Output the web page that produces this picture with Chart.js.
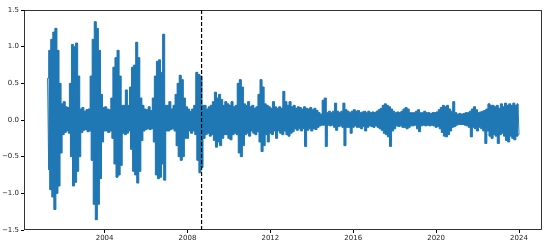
<!DOCTYPE html>
<html>
<head>
<meta charset="utf-8">
<script src="https://cdn.jsdelivr.net/npm/chart.js@4/dist/chart.umd.min.js"></script>
<style>
html,body{margin:0;padding:0;background:#fff;}
#wrap{width:550px;height:245px;position:relative;}
</style>
</head>
<body>
<div id="wrap"><canvas id="c" width="550" height="245"></canvas></div>
<script>
// Sampling of the envelope (decimal years)
const startYear = 2001.25;
const stepYears = 0.1;
// Upper envelope of the series, one value per 0.1 year
const upper = [
0.57,0.95,1.10,1.20,1.25,0.95,0.50,0.22,0.25,0.18,
0.17,0.50,1.03,1.00,1.05,0.60,0.15,0.17,0.12,0.14,
0.15,0.60,1.10,1.34,1.25,0.95,0.35,0.17,0.18,0.15,
0.14,0.30,0.72,0.85,0.95,0.60,0.20,0.20,0.41,0.20,
0.45,0.72,0.75,1.06,0.85,0.30,0.20,0.15,0.14,0.18,
0.13,0.30,0.60,0.80,0.82,0.65,1.17,0.20,0.20,0.25,
0.15,0.20,0.35,0.50,0.61,0.55,0.30,0.18,0.15,0.12,
0.15,0.20,0.65,0.62,0.60,0.20,0.20,0.15,0.18,0.20,
0.25,0.38,0.30,0.35,0.28,0.20,0.25,0.22,0.20,0.25,
0.18,0.20,0.50,0.55,0.45,0.22,0.20,0.25,0.18,0.20,
0.16,0.18,0.35,0.55,0.45,0.22,0.20,0.18,0.16,0.25,
0.18,0.16,0.18,0.16,0.39,0.25,0.20,0.25,0.18,0.20,
0.16,0.18,0.17,0.15,0.18,0.16,0.15,0.17,0.14,0.16,
0.13,0.10,0.08,0.27,0.30,0.10,0.12,0.10,0.12,0.23,
0.12,0.10,0.12,0.23,0.14,0.12,0.10,0.12,0.14,0.12,
0.13,0.10,0.11,0.12,0.10,0.12,0.10,0.11,0.10,0.12,
0.14,0.16,0.20,0.22,0.20,0.18,0.15,0.12,0.10,0.11,
0.10,0.12,0.15,0.17,0.15,0.10,0.10,0.10,0.12,0.14,
0.10,0.10,0.12,0.10,0.10,0.09,0.10,0.10,0.11,0.14,
0.17,0.20,0.18,0.20,0.15,0.12,0.25,0.10,0.08,0.09,
0.08,0.09,0.10,0.10,0.12,0.15,0.18,0.14,0.10,0.11,
0.12,0.13,0.15,0.22,0.20,0.20,0.18,0.20,0.16,0.22,
0.18,0.23,0.20,0.22,0.20,0.23,0.20,0.22
];
// Lower envelope of the series, one value per 0.1 year
const lower = [
-0.68,-0.95,-1.05,-1.22,-1.00,-0.90,-0.45,-0.20,-0.17,-0.15,
-0.18,-0.50,-0.90,-0.85,-0.70,-0.50,-0.17,-0.14,-0.13,-0.16,
-0.15,-0.55,-1.15,-1.36,-1.15,-0.80,-0.30,-0.15,-0.15,-0.17,
-0.15,-0.25,-0.60,-0.78,-0.75,-0.62,-0.18,-0.20,-0.18,-0.15,
-0.40,-0.70,-0.75,-0.86,-0.70,-0.28,-0.15,-0.13,-0.12,-0.13,
-0.12,-0.30,-0.75,-0.80,-0.78,-0.60,-0.82,-0.15,-0.15,-0.13,
-0.12,-0.15,-0.35,-0.50,-0.55,-0.50,-0.25,-0.25,-0.15,-0.18,
-0.15,-0.20,-0.55,-0.72,-0.65,-0.25,-0.20,-0.18,-0.22,-0.20,
-0.28,-0.37,-0.30,-0.35,-0.25,-0.20,-0.20,-0.25,-0.27,-0.20,
-0.18,-0.20,-0.45,-0.50,-0.35,-0.20,-0.18,-0.22,-0.15,-0.18,
-0.20,-0.16,-0.30,-0.43,-0.35,-0.20,-0.30,-0.18,-0.20,-0.15,
-0.25,-0.15,-0.18,-0.20,-0.15,-0.20,-0.22,-0.18,-0.16,-0.12,
-0.14,-0.12,-0.15,-0.12,-0.36,-0.14,-0.12,-0.15,-0.12,-0.13,
-0.10,-0.08,-0.07,-0.07,-0.36,-0.07,-0.08,-0.07,-0.10,-0.14,
-0.09,-0.08,-0.10,-0.35,-0.10,-0.10,-0.18,-0.10,-0.08,-0.10,
-0.10,-0.12,-0.09,-0.15,-0.10,-0.08,-0.09,-0.10,-0.08,-0.10,
-0.12,-0.14,-0.18,-0.20,-0.23,-0.36,-0.15,-0.12,-0.08,-0.09,
-0.08,-0.10,-0.10,-0.12,-0.10,-0.08,-0.08,-0.07,-0.12,-0.16,
-0.08,-0.07,-0.08,-0.07,-0.08,-0.07,-0.08,-0.10,-0.09,-0.12,
-0.17,-0.22,-0.23,-0.20,-0.15,-0.10,-0.09,-0.07,-0.06,-0.06,
-0.06,-0.07,-0.08,-0.10,-0.23,-0.10,-0.12,-0.15,-0.10,-0.12,
-0.15,-0.32,-0.15,-0.22,-0.25,-0.20,-0.22,-0.32,-0.20,-0.18,
-0.22,-0.28,-0.30,-0.22,-0.25,-0.27,-0.22,-0.20
];
// Event marker (dashed vertical line)
const eventYear = 2008.68;
// Axis ticks
const xTicks = [2004, 2008, 2012, 2016, 2020, 2024];
const yTicks = [-1.5, -1.0, -0.5, 0.0, 0.5, 1.0, 1.5];

// Points of the envelopes and of the zig-zag series between them
const upperPts = upper.map((u, i) => ({x: startYear + i * stepYears, y: u}));
const lowerPts = lower.map((l, i) => ({x: startYear + i * stepYears + stepYears / 2, y: l}));
const series = [];
upper.forEach((u, i) => { series.push(upperPts[i]); series.push(lowerPts[i]); });

const frame = {
  id: 'frame',
  afterDatasetsDraw(chart) {
    const {ctx, chartArea: a} = chart;
    ctx.save();
    ctx.strokeStyle = '#000';
    ctx.lineWidth = 0.8;
    ctx.strokeRect(a.left + 0.5, a.top + 0.5, a.right - a.left - 1, a.bottom - a.top - 1);
    ctx.restore();
  }
};

const blue = '#1f77b4';
const tickFont = {family: 'DejaVu Sans', size: 7};
new Chart(document.getElementById('c'), {
  type: 'line',
  data: {
    datasets: [
      {
        data: upperPts,
        borderColor: blue,
        backgroundColor: blue,
        borderWidth: 1,
        pointRadius: 0,
        stepped: 'middle',
        fill: '+1',
        order: 3
      },
      {
        data: lowerPts,
        borderColor: blue,
        borderWidth: 1,
        pointRadius: 0,
        stepped: 'middle',
        fill: false,
        order: 3
      },
      {
        data: series,
        borderColor: blue,
        borderWidth: 1,
        pointRadius: 0,
        tension: 0,
        fill: false,
        order: 2
      },
      {
        data: [{x: eventYear, y: yTicks[0]}, {x: eventYear, y: yTicks[yTicks.length - 1]}],
        borderColor: '#000',
        borderWidth: 1.2,
        borderDash: [4, 2],
        pointRadius: 0,
        fill: false,
        order: 1
      }
    ]
  },
  options: {
    responsive: false,
    animation: false,
    events: [],
    layout: {padding: {top: 10, right: 8, left: 0, bottom: 0}},
    plugins: {legend: {display: false}, tooltip: {enabled: false}},
    scales: {
      x: {
        type: 'linear',
        min: 2000.11,
        max: 2025.11,
        afterBuildTicks: s => { s.ticks = xTicks.map(v => ({value: v})); },
        afterFit: s => { s.height = 15; },
        grid: {drawOnChartArea: false, drawTicks: true, tickLength: 3, color: '#000'},
        border: {display: false},
        ticks: {font: tickFont, color: '#222', padding: 1, maxRotation: 0, callback: v => String(v)}
      },
      y: {
        min: -1.5,
        max: 1.5,
        afterBuildTicks: s => { s.ticks = yTicks.map(v => ({value: v})); },
        afterFit: s => { s.width = 24; },
        grid: {drawOnChartArea: false, drawTicks: true, tickLength: 3, color: '#000'},
        border: {display: false},
        ticks: {font: tickFont, color: '#222', padding: 2, callback: v => v.toFixed(1).replace('-', '\u2212')}
      }
    }
  },
  plugins: [frame]
});
</script>
</body>
</html>
